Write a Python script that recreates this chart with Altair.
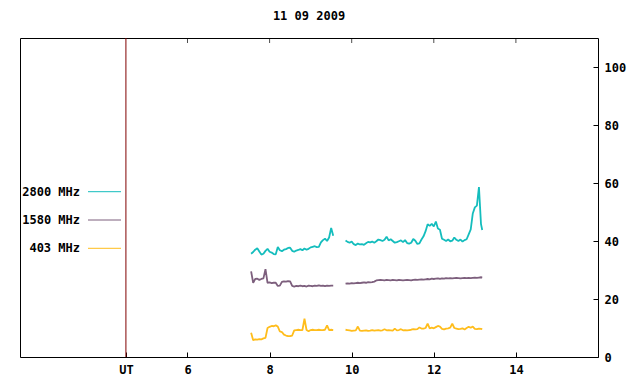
import altair as alt
import pandas as pd

TITLE = "11 09 2009"
SERIES = ["2800 MHz", "1580 MHz", "403 MHz"]
COLORS = ["#14bdbd", "#7d5f7d", "#ffbd1c"]
X_TICKS = [4.5, 6, 8, 10, 12, 14]
TOP_TICKS = [6, 8, 10, 12, 14]
Y_TICKS = [0, 20, 40, 60, 80, 100]
UT_MARK = [4.5]

# time grids (hours UT) of the two observation segments
T1 = [7.55, 7.60, 7.65, 7.70, 7.75, 7.80, 7.85, 7.90, 7.95, 8.00,
      8.05, 8.10, 8.15, 8.20, 8.25, 8.30, 8.35, 8.40, 8.45, 8.50,
      8.55, 8.60, 8.65, 8.70, 8.75, 8.80, 8.85, 8.90, 8.95, 9.00,
      9.05, 9.10, 9.15, 9.20, 9.25, 9.30, 9.35, 9.40, 9.45, 9.50,
      9.55]
T2 = [9.85, 9.90, 9.95,
      10.00, 10.05, 10.10, 10.15, 10.20, 10.25, 10.30, 10.35, 10.40, 10.45,
      10.50, 10.55, 10.60, 10.65, 10.70, 10.75, 10.80, 10.85, 10.90, 10.95,
      11.00, 11.05, 11.10, 11.15, 11.20, 11.25, 11.30, 11.35, 11.40, 11.45,
      11.50, 11.55, 11.60, 11.65, 11.70, 11.75, 11.80, 11.85, 11.90, 11.95,
      12.00, 12.05, 12.10, 12.15, 12.20, 12.25, 12.30, 12.35, 12.40, 12.45,
      12.50, 12.55, 12.60, 12.65, 12.70, 12.75, 12.80, 12.85, 12.90, 12.95,
      13.00, 13.05, 13.10, 13.15, 13.18]

F2800_A = [35.6, 36.2, 37.0, 37.5, 36.4, 35.3, 35.6, 36.6, 37.3, 36.3,
           36.0, 35.5, 35.4, 37.9, 36.8, 36.5, 37.0, 37.2, 37.6, 37.7,
           36.6, 36.3, 36.7, 36.9, 37.2, 36.8, 37.4, 37.0, 37.3, 37.8,
           38.0, 38.2, 37.9, 38.0, 39.5, 40.3, 40.8, 40.0, 41.2, 44.5,
           41.8]
F2800_B = [40.2, 39.7, 39.4,
           39.8, 38.9, 38.6, 39.1, 38.8, 38.9, 38.7, 39.2, 39.7, 39.5,
           39.8, 39.4, 39.9, 40.5, 40.3, 40.0, 40.4, 41.5, 40.2, 40.6,
           40.0, 39.4, 39.6, 39.9, 40.2, 39.6, 40.3, 39.3, 39.1, 39.4,
           40.7, 40.1, 39.0, 39.2, 40.5, 41.6, 43.4, 45.8, 45.2, 45.9,
           45.0, 46.7, 44.3, 43.9, 40.8, 40.4, 40.0, 40.5, 39.9, 40.1,
           41.2, 40.4, 40.0, 40.5, 39.8, 40.3, 40.6, 42.3, 44.0, 49.5,
           51.6, 52.2, 58.6, 45.8, 43.8]

F1580_A = [29.5, 25.6, 26.9, 27.0, 26.6, 26.9, 27.1, 30.3, 25.6, 25.7,
           25.5, 25.6, 25.6, 24.5, 24.6, 25.9, 26.1, 26.0, 26.2, 26.1,
           24.5, 24.3, 24.5, 24.4, 24.6, 24.4, 24.5, 24.3, 24.6, 24.5,
           24.4, 24.6, 24.5, 24.7, 24.5, 24.6, 24.4, 24.6, 24.5, 24.6,
           24.6]
F1580_B = [25.3, 25.4, 25.3,
           25.5, 25.4, 25.5, 25.6, 25.5, 25.6, 25.7, 25.6, 25.8, 25.7,
           25.8, 26.0, 26.4, 26.5, 26.6, 26.5, 26.4, 26.6, 26.5, 26.4,
           26.6, 26.5, 26.4, 26.6, 26.5, 26.4, 26.5, 26.6, 26.5, 26.4,
           26.6, 26.7, 26.6, 26.7, 26.8, 26.7, 26.8, 26.9, 26.8, 27.0,
           26.9, 27.0, 27.1, 26.9, 27.1, 27.0, 27.2, 27.1, 27.2, 27.1,
           27.2, 27.3, 27.2, 27.1, 27.2, 27.3, 27.2, 27.3, 27.2, 27.3,
           27.4, 27.3, 27.4, 27.5, 27.4]

F403_A = [8.4, 5.8, 6.1, 6.0, 6.2, 6.1, 6.4, 6.6, 10.0, 10.4,
          10.7, 10.6, 10.9, 10.5, 8.8, 8.6, 7.7, 7.4, 7.2, 7.2,
          7.4, 9.2, 9.3, 9.4, 9.3, 9.3, 13.2, 9.3, 8.9, 9.3,
          9.4, 9.3, 9.3, 9.4, 9.3, 9.3, 9.4, 10.9, 9.3, 9.4,
          9.3]
F403_B = [9.4, 9.3, 9.2,
          9.0, 9.1, 9.2, 10.5, 9.1, 9.0, 9.1, 9.2, 9.0, 9.1,
          9.3, 9.1, 9.2, 9.3, 9.1, 9.2, 9.6, 9.2, 9.3, 9.2,
          9.1, 9.8, 9.2, 9.3, 9.6, 9.2, 9.3, 9.2, 9.3, 9.4,
          9.6, 9.5, 9.6, 10.2, 9.8, 9.8, 10.0, 11.5, 9.9, 10.1,
          9.9, 10.3, 10.7, 10.5, 9.7, 9.5, 9.8, 9.9, 10.1, 11.5,
          10.0, 9.8, 9.6, 9.7, 9.9, 9.5, 10.0, 10.4, 10.1, 10.5,
          9.7, 9.6, 9.8, 9.7, 9.6]

parts = []
for name, segs in zip(SERIES, [(F2800_A, F2800_B), (F1580_A, F1580_B), (F403_A, F403_B)]):
    for k, (T, V) in enumerate(zip([T1, T2], segs)):
        df = pd.DataFrame({"t": T, "v": V})
        df["series"] = name
        df["seg"] = f"{name}-{k}"
        parts.append(df)
data = pd.concat(parts, ignore_index=True)

FONT = "DejaVu Sans Mono"
FS = 12
W, H = 578, 319

xscale = alt.Scale(domain=[1.92, 16], nice=False, zero=False)
yscale = alt.Scale(domain=[0, 110], nice=False, zero=True)
cscale = alt.Scale(domain=SERIES, range=COLORS)

XAXIS = alt.Axis(
    values=X_TICKS, title=None, orient="bottom", offset=-5, tickSize=5,
    domain=False, grid=False, labelPadding=7, tickColor="black",
    labelExpr="datum.value == 4.5 ? 'UT' : datum.label",
    labelFont=FONT, labelFontSize=FS, labelFontWeight="bold",
    labelColor="black", labelOverlap=False)
YAXIS = alt.Axis(
    values=Y_TICKS, title=None, orient="right", offset=-5, tickSize=5,
    domain=False, grid=False, labelPadding=6, tickColor="black",
    labelFont=FONT, labelFontSize=FS, labelFontWeight="bold",
    labelColor="black", labelOverlap=False)

lines = alt.Chart(data).mark_line(strokeJoin="bevel").encode(
    x=alt.X("t:Q", scale=xscale, axis=XAXIS),
    y=alt.Y("v:Q", scale=yscale, axis=YAXIS),
    color=alt.Color("series:N", scale=cscale, legend=None),
    strokeWidth=alt.StrokeWidth("series:N", scale=alt.Scale(domain=SERIES, range=[1.8, 1.8, 1.2]), legend=None),
    detail="seg:N",
)

ut_rule = alt.Chart(pd.DataFrame({"t": UT_MARK})).mark_rule(color="#800000", strokeWidth=1).encode(
    x=alt.X("t:Q", scale=xscale, axis=XAXIS)
)

top_ticks = alt.Chart(pd.DataFrame({"t": TOP_TICKS})).mark_tick(
    color="black", size=5, thickness=1, orient="vertical").encode(
    x=alt.X("t:Q", scale=xscale, axis=XAXIS),
    y=alt.value(2.5),
)

legend_layers = []
LEG_Y0, LEG_STEP = 153.7, 28.3
for i, (name, col) in enumerate(zip(SERIES, COLORS)):
    ly = LEG_Y0 + LEG_STEP * i
    ldf = pd.DataFrame({"series": [name]})
    legend_layers.append(
        alt.Chart(ldf).mark_text(align="right", baseline="middle", font=FONT,
                                 fontSize=FS, fontWeight="bold", color="black").encode(
            x=alt.value(60), y=alt.value(ly), text="series:N"))
    legend_layers.append(
        alt.Chart(ldf).mark_rule(color=col, strokeWidth=1).encode(
            x=alt.value(68), x2=alt.value(101), y=alt.value(ly)))

chart = alt.layer(lines, ut_rule, top_ticks, *legend_layers).properties(
    width=W, height=H,
    background="white",
    title=alt.TitleParams(TITLE, font=FONT, fontSize=FS, fontWeight="bold",
                          anchor="middle", color="black", offset=15),
    autosize=alt.AutoSizeParams(type="none"),
    padding={"left": 12, "top": 30, "right": 34, "bottom": 24},
).configure_view(stroke="black", strokeWidth=1)

chart.save("out.html", embed_options={"renderer": "svg", "actions": False})
